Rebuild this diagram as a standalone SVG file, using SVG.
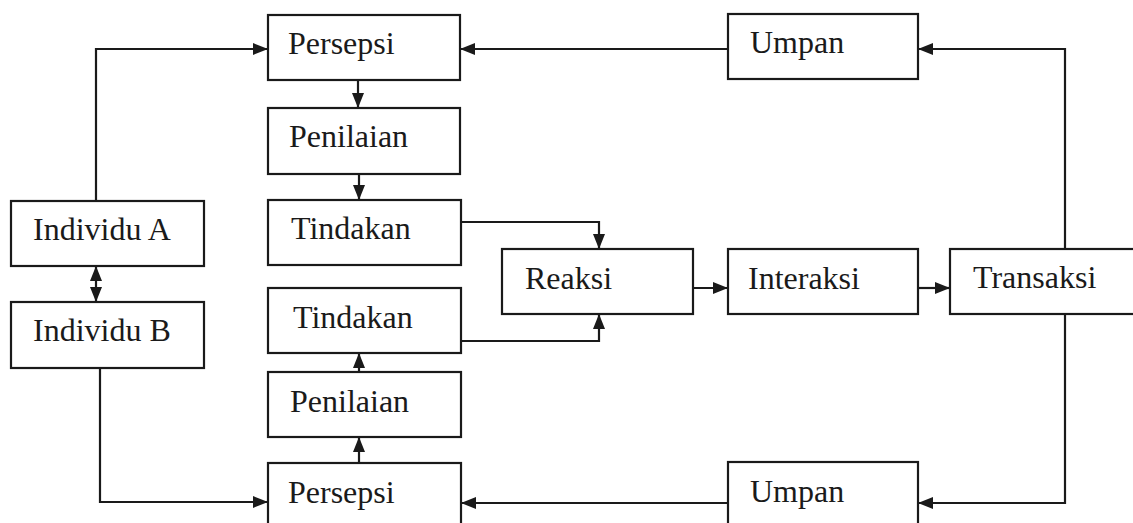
<svg xmlns="http://www.w3.org/2000/svg" width="1133" height="523" viewBox="0 0 1133 523">
<defs>
<style>
.box{fill:#fff;stroke:#1a1a1a;stroke-width:2.2}
.lbl{font-family:"Liberation Serif","Times New Roman",serif;font-size:32px;fill:#1a1a1a}
.ln{fill:none;stroke:#1a1a1a;stroke-width:2.2}
</style>
<marker id="ah" viewBox="0 0 15 12" refX="15" refY="6" markerWidth="15" markerHeight="12" markerUnits="userSpaceOnUse" orient="auto-start-reverse">
<path d="M0,0 L15,6 L0,12 Z" fill="#1a1a1a"/>
</marker>
</defs>
<rect width="1133" height="523" fill="#fff"/>
<g id="connectors">
<path class="ln" d="M96,201 V49 H268" marker-end="url(#ah)"/>
<path class="ln" d="M728,49 H460" marker-end="url(#ah)"/>
<path class="ln" d="M1065,249 V49 H918" marker-end="url(#ah)"/>
<path class="ln" d="M358,80 V108" marker-end="url(#ah)"/>
<path class="ln" d="M359,174 V200" marker-end="url(#ah)"/>
<path class="ln" d="M461,222 H599 V249" marker-end="url(#ah)"/>
<path class="ln" d="M461,341 H599 V314" marker-end="url(#ah)"/>
<path class="ln" d="M693,288 H728" marker-end="url(#ah)"/>
<path class="ln" d="M918,288 H950" marker-end="url(#ah)"/>
<path class="ln" d="M96,266 V302" marker-start="url(#ah)" marker-end="url(#ah)"/>
<path class="ln" d="M100,368 V502 H268" marker-end="url(#ah)"/>
<path class="ln" d="M359,372 V353" marker-end="url(#ah)"/>
<path class="ln" d="M359,463 V437" marker-end="url(#ah)"/>
<path class="ln" d="M1065,314 V503 H918" marker-end="url(#ah)"/>
<path class="ln" d="M728,503 H461" marker-end="url(#ah)"/>
</g>
<g id="persepsi1"><rect class="box" x="268" y="15" width="192" height="65"/><text class="lbl" x="288" y="54">Persepsi</text></g>
<g id="penilaian1"><rect class="box" x="268" y="108" width="192" height="66"/><text class="lbl" x="289" y="147">Penilaian</text></g>
<g id="tindakan1"><rect class="box" x="268" y="200" width="193" height="65"/><text class="lbl" x="291" y="239">Tindakan</text></g>
<g id="individuA"><rect class="box" x="11" y="201" width="193" height="65"/><text class="lbl" x="33" y="240">Individu A</text></g>
<g id="individuB"><rect class="box" x="11" y="302" width="193" height="66"/><text class="lbl" x="33" y="341">Individu B</text></g>
<g id="tindakan2"><rect class="box" x="268" y="288" width="193" height="65"/><text class="lbl" x="293" y="328">Tindakan</text></g>
<g id="penilaian2"><rect class="box" x="268" y="372" width="193" height="65"/><text class="lbl" x="290" y="412">Penilaian</text></g>
<g id="persepsi2"><rect class="box" x="268" y="463" width="193" height="66"/><text class="lbl" x="288" y="503">Persepsi</text></g>
<g id="umpan1"><rect class="box" x="728" y="14" width="190" height="65"/><text class="lbl" x="750" y="53">Umpan</text></g>
<g id="umpan2"><rect class="box" x="728" y="462" width="190" height="66"/><text class="lbl" x="750" y="502">Umpan</text></g>
<g id="reaksi"><rect class="box" x="502" y="249" width="191" height="65"/><text class="lbl" x="525" y="289">Reaksi</text></g>
<g id="interaksi"><rect class="box" x="728" y="249" width="190" height="65"/><text class="lbl" x="748" y="289">Interaksi</text></g>
<g id="transaksi"><rect class="box" x="950" y="249" width="192" height="65"/><text class="lbl" x="973" y="288">Transaksi</text></g>
</svg>
